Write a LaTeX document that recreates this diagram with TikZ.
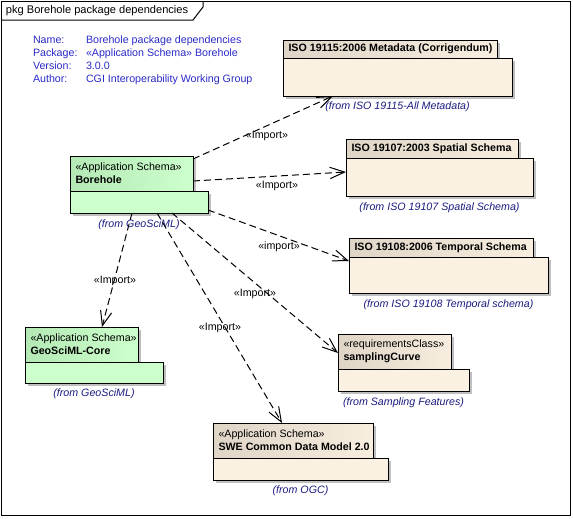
\documentclass[tikz,border=0pt]{standalone}
\usepackage{fontspec}
\setmainfont{Liberation Sans}
\usetikzlibrary{arrows.meta,calc,shadows}
\definecolor{gbody}{HTML}{CCFFCC}
\definecolor{gtabl}{HTML}{B4E8B4}
\definecolor{bbody}{HTML}{FAF1E2}
\definecolor{btabl}{HTML}{DED5C7}
\definecolor{btabr}{HTML}{F7EEDF}
\definecolor{metablue}{HTML}{2A2AC8}
\definecolor{fromblue}{HTML}{1A1A80}
\tikzset{
  txt/.style={font=\fontsize{8pt}{9.75pt}\selectfont, inner sep=0pt, outer sep=0pt},
  box/.style 2 args={draw, line width=0.75pt, anchor=north west, rectangle,
    minimum width=#1*0.75pt, minimum height=#2*0.75pt, inner sep=0pt, outer sep=0pt,
    drop shadow={shadow xshift=2.25pt, shadow yshift=-2.25pt, fill=black, opacity=0.25}},
  gtab/.style 2 args={box={#1}{#2}, left color=gtabl, right color=gbody},
  gbox/.style 2 args={box={#1}{#2}, fill=gbody},
  btab/.style 2 args={box={#1}{#2}, left color=btabl, right color=btabr},
  bbox/.style 2 args={box={#1}{#2}, fill=bbody},
  tabtext/.style={txt, anchor=west, align=left},
  fromlbl/.style={txt, font=\fontsize{8pt}{9.75pt}\selectfont\itshape, text=fromblue},
  implbl/.style={txt},
  dep/.style={draw, line width=0.75pt, dash pattern=on 5.25pt off 3pt,
    -{Straight Barb[length=11pt, width=8.5pt, line width=0.75pt]}},
  frame/.style={draw, line width=0.75pt},
}
\begin{document}
\begin{tikzpicture}[x=0.75pt, y=-0.75pt]
\useasboundingbox (0,0) rectangle (573,518);
% frame
\draw[frame] (1,1) rectangle (570,515);
\draw[frame] (1,20) -- (193,20) -- (203,7) -- (203,1);
\node[txt, font=\fontsize{8.3pt}{9.75pt}\selectfont, anchor=west] (title) at (6,11) {pkg Borehole package dependencies};
% meta
\node[txt, anchor=north west, align=left, text=metablue] (metal) at (33,36)
  {Name:\\Package:\\Version:\\Author:};
\node[txt, anchor=north west, align=left, text=metablue] (metar) at (86,36)
  {Borehole package dependencies\\«Application Schema» Borehole\\3.0.0\\CGI Interoperability Working Group};

% Borehole
\node[gtab={123}{35}] (bh-tab) at (70,156) {};
\node[gbox={138}{22}] (bh-body) at (70,191) {};
\node[tabtext] (bh-name) at ($(bh-tab.west)+(5.5,0)$) {«Application Schema»\\\textbf{Borehole}};
\node[fromlbl] (bh-from) at ($(bh-body.south)+(0,12)$) {(from GeoSciML)};

% GeoSciML-Core
\node[gtab={113}{35}] (core-tab) at (25,327) {};
\node[gbox={138}{21}] (core-body) at (25,362) {};
\node[tabtext] (core-name) at ($(core-tab.west)+(5.5,0)$) {«Application Schema»\\\textbf{GeoSciML-Core}};
\node[fromlbl] (core-from) at ($(core-body.south)+(0,11)$) {(from GeoSciML)};

% ISO 19115
\node[btab={214}{18}] (m15-tab) at (283,40) {};
\node[bbox={229}{38}] (m15-body) at (283,58) {};
\node[tabtext] (m15-name) at ($(m15-tab.west)+(5.5,0)$) {\textbf{ISO 19115:2006 Metadata (Corrigendum)}};
\node[fromlbl] (m15-from) at ($(m15-body.south)+(0,11)$) {(from ISO 19115-All Metadata)};

% ISO 19107
\node[btab={172}{19}] (m07-tab) at (346,139) {};
\node[bbox={187}{38}] (m07-body) at (346,158) {};
\node[tabtext] (m07-name) at ($(m07-tab.west)+(5.5,0)$) {\textbf{ISO 19107:2003 Spatial Schema}};
\node[fromlbl] (m07-from) at ($(m07-body.south)+(0,12)$) {(from ISO 19107 Spatial Schema)};

% ISO 19108
\node[btab={184}{19}] (m08-tab) at (349,238) {};
\node[bbox={199}{36}] (m08-body) at (349,257) {};
\node[tabtext] (m08-name) at ($(m08-tab.west)+(5.5,0)$) {\textbf{ISO 19108:2006 Temporal Schema}};
\node[fromlbl] (m08-from) at ($(m08-body.south)+(0,12)$) {(from ISO 19108 Temporal schema)};

% samplingCurve
\node[btab={113}{35}] (samp-tab) at (338,334) {};
\node[bbox={131}{22}] (samp-body) at (338,369) {};
\node[tabtext] (samp-name) at ($(samp-tab.west)+(5.5,0)$) {«requirementsClass»\\\textbf{samplingCurve}};
\node[fromlbl] (samp-from) at ($(samp-body.south)+(0,12)$) {(from Sampling Features)};

% SWE
\node[btab={160}{35}] (swe-tab) at (213,423) {};
\node[bbox={175}{22}] (swe-body) at (213,458) {};
\node[tabtext] (swe-name) at ($(swe-tab.west)+(5.5,0)$) {«Application Schema»\\\textbf{SWE Common Data Model 2.0}};
\node[fromlbl] (swe-from) at ($(swe-body.south)+(0,11)$) {(from OGC)};

% dependencies
\draw[dep] ($(bh-tab.north east)+(0,3)$) -- ($(m15-body.south west)+(50,0)$);
\draw[dep] ($(bh-tab.south east)+(0,-10)$) -- ($(m07-body.north west)+(0,14)$);
\draw[dep] ($(bh-body.north east)+(0,19)$) -- ($(m08-body.north west)+(0,4)$);
\draw[dep] ($(bh-body.south west)+(102,0)$) -- ($(samp-tab.north west)+(0,19)$);
\draw[dep] ($(bh-body.south west)+(87,0)$) -- ($(swe-tab.north west)+(69,0)$);
\draw[dep] ($(bh-body.south west)+(62,0)$) -- ($(core-tab.north west)+(77,0)$);

\node[implbl] (i15) at (267,136) {«Import»};
\node[implbl] (i07) at (277,186) {«Import»};
\node[implbl] (i08) at (279,247) {«import»};
\node[implbl] (isamp) at (255,294) {«Import»};
\node[implbl] (iswe) at (220,328) {«Import»};
\node[implbl] (icore) at (115,281) {«Import»};
\end{tikzpicture}
\end{document}
